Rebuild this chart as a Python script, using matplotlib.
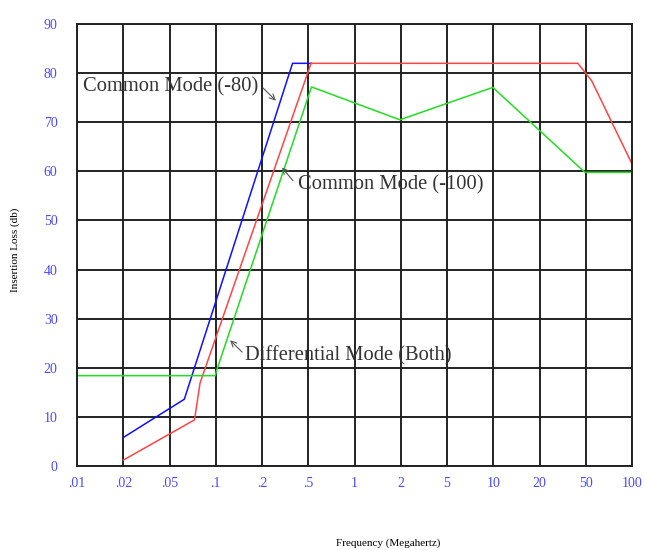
import matplotlib
matplotlib.use('Agg')
import matplotlib.pyplot as plt

freq_labels = ['.01', '.02', '.05', '.1', '.2', '.5', '1', '2', '5', '10', '20', '50', '100']
loss_ticks = [0, 10, 20, 30, 40, 50, 60, 70, 80, 90]

# x is measured in grid columns (0 = .01 MHz ... 12 = 100 MHz)
cm80_x = [1.0, 2.32, 4.66, 5.07]
cm80_y = [5.8, 13.6, 82.0, 82.0]

cm100_x = [1.0, 2.54, 2.66, 5.06, 10.83, 11.13, 12.0]
cm100_y = [1.2, 9.4, 16.9, 82.0, 82.0, 78.4, 61.5]

diff_x = [0.0, 2.99, 3.02, 5.07, 6.98, 8.99, 10.98, 11.96]
diff_y = [18.4, 18.4, 19.5, 77.2, 70.5, 77.1, 59.8, 59.8]

serif = 'Liberation Serif'

fig = plt.figure(figsize=(6.45, 5.5), dpi=100)
ax = fig.add_axes([0.1194, 0.1527, 0.8605, 0.8036])

ax.plot(cm80_x, cm80_y, color='#1010ff', lw=1.1)
ax.plot(cm100_x, cm100_y, color='#ff4545', lw=1.1)
ax.plot(diff_x, diff_y, color='#22dd22', lw=1.1)

ax.set_xlim(0, 12)
ax.set_ylim(0, 90)
ax.set_xticks(range(len(freq_labels)))
ax.set_xticklabels(freq_labels)
ax.set_yticks(loss_ticks)
ax.grid(True, color='#222222', lw=1.4)
ax.set_axisbelow(True)
for s in ax.spines.values():
    s.set_color('#222222')
    s.set_linewidth(1.4)
ax.tick_params(axis='both', length=0, labelcolor='#4a4aff', labelsize=10)
ax.tick_params(axis='y', pad=14)
ax.tick_params(axis='x', pad=8)
for lab in ax.get_xticklabels() + ax.get_yticklabels():
    lab.set_family(serif)

arrow = dict(arrowstyle='->', color='#555555', lw=0.8, shrinkA=0, shrinkB=0)
txt = dict(family=serif, fontsize=14.8, color='#333333', va='center', ha='left')

ax.text(0.13, 77.2, 'Common Mode (-80)', **txt)
ax.annotate('', xy=(4.30, 74.4), xytext=(4.02, 77.0), arrowprops=arrow)

ax.text(4.78, 57.3, 'Common Mode (-100)', **txt)
ax.annotate('', xy=(4.43, 60.8), xytext=(4.67, 58.1), arrowprops=arrow)

ax.text(3.63, 22.4, 'Differential Mode (Both)', **txt)
ax.annotate('', xy=(3.31, 25.6), xytext=(3.57, 23.2), arrowprops=arrow)

fig.text(15 / 645, 1 - 250 / 550, 'Insertion Loss (db)', rotation=90,
         family=serif, fontsize=8, ha='center', va='center')
fig.text(388 / 645, 1 - 543 / 550, 'Frequency (Megahertz)',
         family=serif, fontsize=8, ha='center', va='center')

fig.savefig('out.png', dpi=100)
